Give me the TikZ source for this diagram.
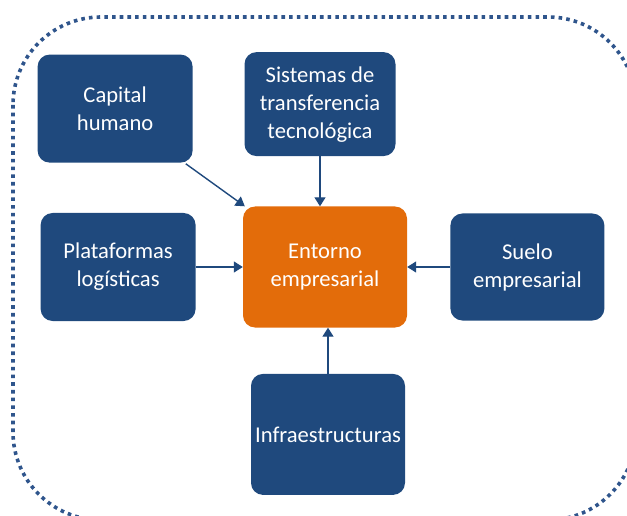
\documentclass[tikz,border=0pt]{standalone}
\usepackage{fontspec}
\setmainfont{Carlito}
\usetikzlibrary{positioning, arrows.meta}

\definecolor{boxblue}{RGB}{31,73,125}
\definecolor{boxorange}{RGB}{227,108,10}
\definecolor{frameblue}{RGB}{47,85,140}

\begin{document}
\begin{tikzpicture}[
    x=1pt, y=-1pt,
    node distance=46pt and 45pt,
    factor/.style={rectangle, fill=boxblue, text=white, align=center, rounded corners=12pt, minimum width=155pt, minimum height=108pt, font=\fontsize{22.6}{28}\selectfont},
    core/.style={factor, fill=boxorange, minimum width=164pt, minimum height=121pt},
    arrow/.style={line width=1.4pt, draw=boxblue, -{Triangle[width=11pt,length=9pt]}},
    frame/.style={draw=frameblue, line width=3.6pt, dash pattern=on 3.6pt off 4.1pt, rounded corners=88pt}
]
\useasboundingbox (0,0) rectangle (627,516);

% Outer dotted frame
\draw[frame] (13,17) rectangle (636,520);

% Nodes

\node[core] (entorno) at (325,267) {Entorno\\empresarial};

\node[factor, left=47pt of entorno] (plataformas) {Plataformas\\log\'isticas};

\node[factor, above=46pt of plataformas, xshift=-3pt, yshift=4pt] (capital) {Capital\\humano};

\node[factor, above=50pt of entorno, xshift=-5pt, minimum width=151pt, minimum height=104pt] (sistemas) {Sistemas de\\transferencia\\tecnol\'ogica};

\node[factor, right=43pt of entorno, minimum width=154pt, minimum height=107pt] (suelo) {Suelo\\empresarial};

\node[factor, below=46pt of entorno, xshift=3pt, minimum width=154pt, minimum height=121pt] (infra) {Infraestructuras};

% Connectors

\draw[arrow] ([xshift=-7pt,yshift=-1pt]capital.south east) -- ([xshift=2pt]entorno.north west);
\draw[arrow] (sistemas.south) -- (sistemas.south |- entorno.north);
\draw[arrow] (plataformas.east |- entorno.west) -- (entorno.west);
\draw[arrow] (suelo.west |- entorno.east) -- (entorno.east);
\draw[arrow] (infra.north) -- (infra.north |- entorno.south);

\end{tikzpicture}
\end{document}
